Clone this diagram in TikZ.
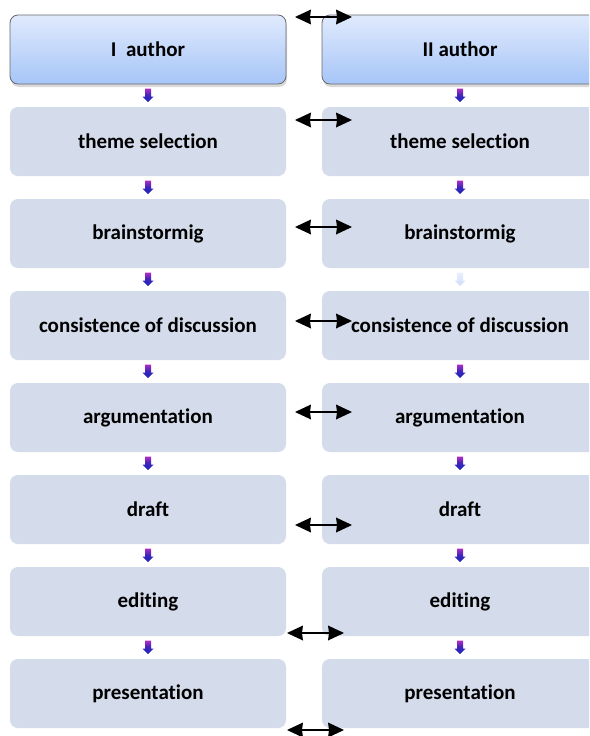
\documentclass[tikz,border=0pt]{standalone}
\usepackage{fontspec}
\setmainfont{Carlito}[RawFeature=-liga]
\usetikzlibrary{arrows.meta,shadows,calc}
\definecolor{boxfill}{RGB}{212,219,234}
\definecolor{authtop}{RGB}{224,234,253}
\definecolor{authbot}{RGB}{166,197,247}
\definecolor{authborder}{RGB}{105,105,110}
\definecolor{arrtop}{RGB}{175,45,195}
\definecolor{arrbot}{RGB}{30,35,185}
\definecolor{fadetop}{RGB}{235,240,252}
\definecolor{fadebot}{RGB}{205,220,248}
\tikzset{
  stepbox/.style={rounded corners=8pt, minimum width=276pt, minimum height=69pt,
    inner sep=0pt, fill=boxfill, font=\fontsize{21}{24}\selectfont\bfseries},
  authbox/.style={stepbox, top color=authtop, bottom color=authbot,
    draw=authborder, line width=0.8pt,
    drop shadow={shadow xshift=1pt, shadow yshift=-3pt, opacity=0.3}},
  link/.style={line width=2.8pt, black, shorten <=10pt, shorten >=10pt},
  headl/.pic={\fill[black] (0,0) -- (16,-7.5) -- (15,0) -- (16,7.5) -- cycle;},
  headr/.pic={\fill[black] (0,0) -- (-16,-7.5) -- (-15,0) -- (-16,7.5) -- cycle;},
  darr/.pic={\shade[top color=arrtop, bottom color=arrbot, middle color=arrbot!80!arrtop]
    (-3,-7) -- (3,-7) -- (3,1) -- (5.5,1) -- (0,6.5) -- (-5.5,1) -- (-3,1) -- cycle;},
  fadearr/.pic={\shade[top color=fadetop, bottom color=fadebot]
    (-3,-7) -- (3,-7) -- (3,1) -- (5.5,1) -- (0,6.5) -- (-5.5,1) -- (-3,1) -- cycle;},
}
\begin{document}
\begin{tikzpicture}[x=1pt,y=-1pt]
\useasboundingbox (0,0) rectangle (589,736);
\clip (0,0) rectangle (589,736);
% boxes
\node[authbox] (L0) at (148,49.5) {I\ \ author};
\node[authbox] (R0) at (460,49.5) {II author};
\foreach \i/\t in {1/theme selection,2/brainstormig,3/consistence of discussion,
                   4/argumentation,5/draft,6/editing,7/presentation}{
  \node[stepbox] (L\i) at (148,49.5+92*\i) {\t};
  \node[stepbox] (R\i) at (460,49.5+92*\i) {\t};
}
% small down arrows
\foreach \i [evaluate=\i as \j using int(\i+1)] in {0,...,6}{
  \path (L\i.south) -- (L\j.north) coordinate[midway] (mL\i);
  \path (R\i.south) -- (R\j.north) coordinate[midway] (mR\i);
  \pic at (mL\i) {darr};
}
\foreach \i in {0,1,3,4,5,6}{ \pic at (mR\i) {darr}; }
\pic at (mR2) {fadearr};
% double arrows between the columns
\coordinate (a0l) at (295,17);  \coordinate (a0r) at (352,17);
\coordinate (a1l) at (295,120); \coordinate (a1r) at (352,120);
\coordinate (a2l) at (295,227); \coordinate (a2r) at (352,227);
\coordinate (a3l) at (295,321); \coordinate (a3r) at (352,321);
\coordinate (a4l) at (295,412); \coordinate (a4r) at (352,412);
\coordinate (a5l) at (295,525); \coordinate (a5r) at (352,525);
\coordinate (a6l) at (287,633); \coordinate (a6r) at (344,633);
\coordinate (a7l) at (287,730); \coordinate (a7r) at (344,730);
\foreach \i in {0,...,7}{
  \draw[link] (a\i l) -- (a\i r);
  \pic at (a\i l) {headl};
  \pic at (a\i r) {headr};
}
\end{tikzpicture}
\end{document}
